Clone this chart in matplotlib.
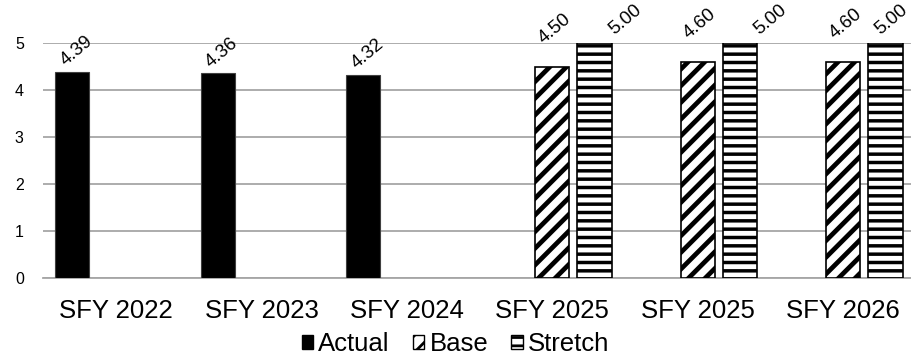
import matplotlib
matplotlib.use("Agg")
import matplotlib.pyplot as plt
from matplotlib.patches import Patch
import numpy as np

plt.rcParams['font.family'] = ['Liberation Sans', 'DejaVu Sans']

categories = ["SFY 2022", "SFY 2023", "SFY 2024", "SFY 2025", "SFY 2025", "SFY 2026"]
actual = [4.39, 4.36, 4.32, None, None, None]
base = [None, None, None, 4.50, 4.60, 4.60]
stretch = [None, None, None, 5.00, 5.00, 5.00]

grid_col = "#a6a6a6"

fig = plt.figure(figsize=(9.11, 3.58), dpi=100)
# axes runs a bit past the right edge, like the original
ax = fig.add_axes([0.0475, 0.2226, 0.958, 0.6564])

x = np.arange(len(categories))
w = 0.235


def draw_series(vals, offset, lbl_off, hatch_lw=None, **kw):
    idx = [i for i, v in enumerate(vals) if v is not None]
    hv = [vals[i] for i in idx]
    bars = ax.bar(x[idx] + offset, hv, width=w, zorder=3, **kw)
    for k, (b, v) in enumerate(zip(bars, hv)):
        if hatch_lw is not None:
            b.set_hatch_linewidth(hatch_lw)
        dx, dy = lbl_off[k] if isinstance(lbl_off, list) else lbl_off
        ax.annotate(f"{v:.2f}", (b.get_x() + b.get_width() / 2, v),
                    xytext=(dx, dy), textcoords="offset points",
                    ha="center", va="bottom", rotation=40,
                    fontsize=13.5, annotation_clip=False)
    return bars


draw_series(actual, -0.3, (3, 2), color="black", edgecolor="#404040", linewidth=0.8)
draw_series(base, 0.0, (1.5, 14.5), hatch_lw=3.4, facecolor="white", edgecolor="black",
            linewidth=1.2, hatch="//")
draw_series(stretch, 0.29, [(22, 4), (22, 4), (4, 4)], hatch_lw=2.5,
            facecolor="white", edgecolor="black", linewidth=1.2, hatch="--")

ax.set_xlim(-0.5, len(categories) - 0.5)
ax.set_ylim(0, 5)
ax.set_yticks(range(0, 6))
ax.set_xticks(x)
ax.set_xticklabels(categories, fontsize=18.5)
ax.tick_params(axis="x", length=0, pad=15)
ax.tick_params(axis="y", length=0, pad=14, labelsize=11.5)
ax.yaxis.grid(True, color=grid_col, linewidth=1.3, zorder=0)
ax.set_axisbelow(True)
for s in ["top", "right", "left"]:
    ax.spines[s].set_visible(False)
ax.spines["bottom"].set_color(grid_col)
ax.spines["bottom"].set_linewidth(1.3)

handles = [Patch(facecolor="black", edgecolor="black", label="Actual"),
           Patch(facecolor="white", edgecolor="black", hatch="//", label="Base"),
           Patch(facecolor="white", edgecolor="black", hatch="--", label="Stretch")]
leg = fig.legend(handles=handles, loc="lower center", bbox_to_anchor=(0.5, -0.052),
                 ncol=3, frameon=False, fontsize=18.5, handlelength=0.45,
                 handleheight=0.45, handletextpad=0.2, columnspacing=0.9,
                 borderpad=0.3)
for p in leg.get_patches()[1:]:
    p.set_hatch_linewidth(2.0)

fig.savefig("out.png", dpi=100)
